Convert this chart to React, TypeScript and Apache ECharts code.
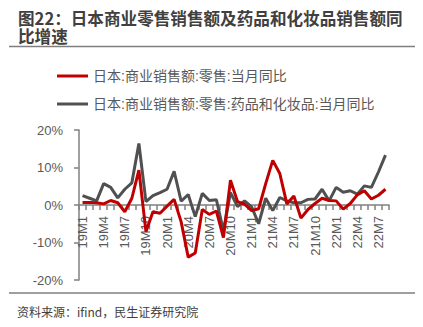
import React, { useEffect, useRef } from "react";
import * as echarts from "echarts";

const months: string[] = [];
for (const y of ["19", "20", "21", "22"]) {
  for (let m = 1; m <= 12; m++) {
    if (y === "22" && m > 8) break;
    months.push(`${y}M${m}`);
  }
}

const retailName = "日本:商业销售额:零售:当月同比";
const drugName = "日本:商业销售额:零售:药品和化妆品:当月同比";

const retailYoY = [
  0.7, 0.7, 0.6, 0.3, 1.2, 0.6, -1.8, 1.8, 9.3, -7.1, -1.8, -2.2,
  -0.3, 1.5, -4.5, -13.9, -12.8, -1.2, -2.5, -1.6, -8.7, 6.6, 0.9, 0.2,
  -1.5, -1.0, 5.7, 11.9, 8.4, 0.3, 2.4, -3.5, -1.2, 0.4, 1.8, 1.2,
  1.1, -1.1, 0.4, 2.7, 3.8, 1.6, 2.6, 4.2,
];

const drugYoY = [
  2.5, 1.8, 1.1, 5.7, 4.7, 1.9, 4.2, 5.9, 16.4, 0.9, 2.5, 3.3,
  4.2, 9.0, 1.0, 2.8, -3.1, 3.1, 1.2, 1.4, -6.9, 3.3, -0.4, 1.1,
  -0.5, -5.0, 1.8, -1.5, 2.0, 1.1, 0.6, 0.6, 1.5, 1.6, 4.2, 1.1,
  4.7, 3.4, 3.8, 2.9, 5.1, 4.7, 8.8, 13.3,
];

const titleLine1 = "图22：日本商业零售销售额及药品和化妆品销售额同";
const titleLine2 = "比增速";
const sourceText = "资料来源：ifind，民生证券研究院";

const FONT = "'Liberation Sans', 'Noto Sans CJK SC', sans-serif";
const CJK = "'Noto Sans CJK SC', sans-serif";

export default function App() {
  const ref = useRef<HTMLDivElement>(null);
  useEffect(() => {
    if (!ref.current) return;
    const chart = echarts.init(ref.current, undefined, { renderer: "svg" });
    const legendBase = {
      orient: "horizontal",
      left: 52,
      icon: "rect",
      itemWidth: 31,
      itemHeight: 3,
      itemGap: 5,
      selectedMode: false,
      textStyle: { fontSize: 14, color: "#595959", fontFamily: FONT },
    };
    const titleStyle = {
      fontSize: 16.6,
      fontWeight: "bold",
      fill: "#404040",
      fontFamily: CJK,
      verticalAlign: "middle",
      align: "left",
    };
    chart.setOption({
      animation: false,
      legend: [
        { ...legendBase, top: 64, data: [retailName] },
        { ...legendBase, top: 92, data: [drugName] },
      ],
      grid: { left: 79, right: 34, top: 130, bottom: 47, containLabel: false },
      xAxis: {
        type: "category",
        data: months,
        boundaryGap: true,
        offset: -75,
        axisLine: { onZero: false, lineStyle: { color: "#808080", width: 1.5 } },
        axisTick: { show: true, interval: 0, length: 5, lineStyle: { color: "#808080", width: 1.5 } },
        axisLabel: {
          interval: 2,
          rotate: 90,
          margin: 11,
          fontSize: 13,
          color: "#595959",
          fontFamily: FONT,
        },
        splitLine: { show: false },
      },
      yAxis: {
        type: "value",
        min: -20,
        max: 20,
        interval: 10,
        axisLine: { show: true, lineStyle: { color: "#808080", width: 1.5 } },
        axisTick: { show: true, length: 5, lineStyle: { color: "#808080", width: 1.5 } },
        axisLabel: {
          formatter: "{value}%",
          margin: 16,
          fontSize: 13,
          color: "#595959",
          fontFamily: FONT,
        },
        splitLine: { show: false },
      },
      series: [
        {
          name: drugName,
          type: "line",
          data: drugYoY,
          symbol: "none",
          color: "#505050",
          lineStyle: { color: "#505050", width: 3 },
        },
        {
          name: retailName,
          type: "line",
          data: retailYoY,
          symbol: "none",
          color: "#C00000",
          lineStyle: { color: "#C00000", width: 3 },
        },
      ],
      graphic: [
        {
          type: "text",
          x: 18,
          y: 18,
          style: { ...titleStyle, text: titleLine1 },
        },
        {
          type: "text",
          x: 18,
          y: 36,
          style: { ...titleStyle, text: titleLine2 },
        },
        {
          type: "line",
          shape: { x1: 9, y1: 46.5, x2: 415, y2: 46.5 },
          style: { stroke: "#7f7f7f", lineWidth: 1.5 },
        },
        {
          type: "line",
          shape: { x1: 9, y1: 293, x2: 415, y2: 293 },
          style: { stroke: "#7f7f7f", lineWidth: 1.5 },
        },
        {
          type: "text",
          left: 17,
          top: 305,
          style: {
            text: sourceText,
            fontSize: 12,
            fill: "#404040",
            fontFamily: CJK,
          },
        },
      ],
    });
    return () => chart.dispose();
  }, []);
  return (
    <div
      ref={ref}
      style={{ position: "absolute", left: 0, top: 0, width: 423, height: 327 }}
    />
  );
}
